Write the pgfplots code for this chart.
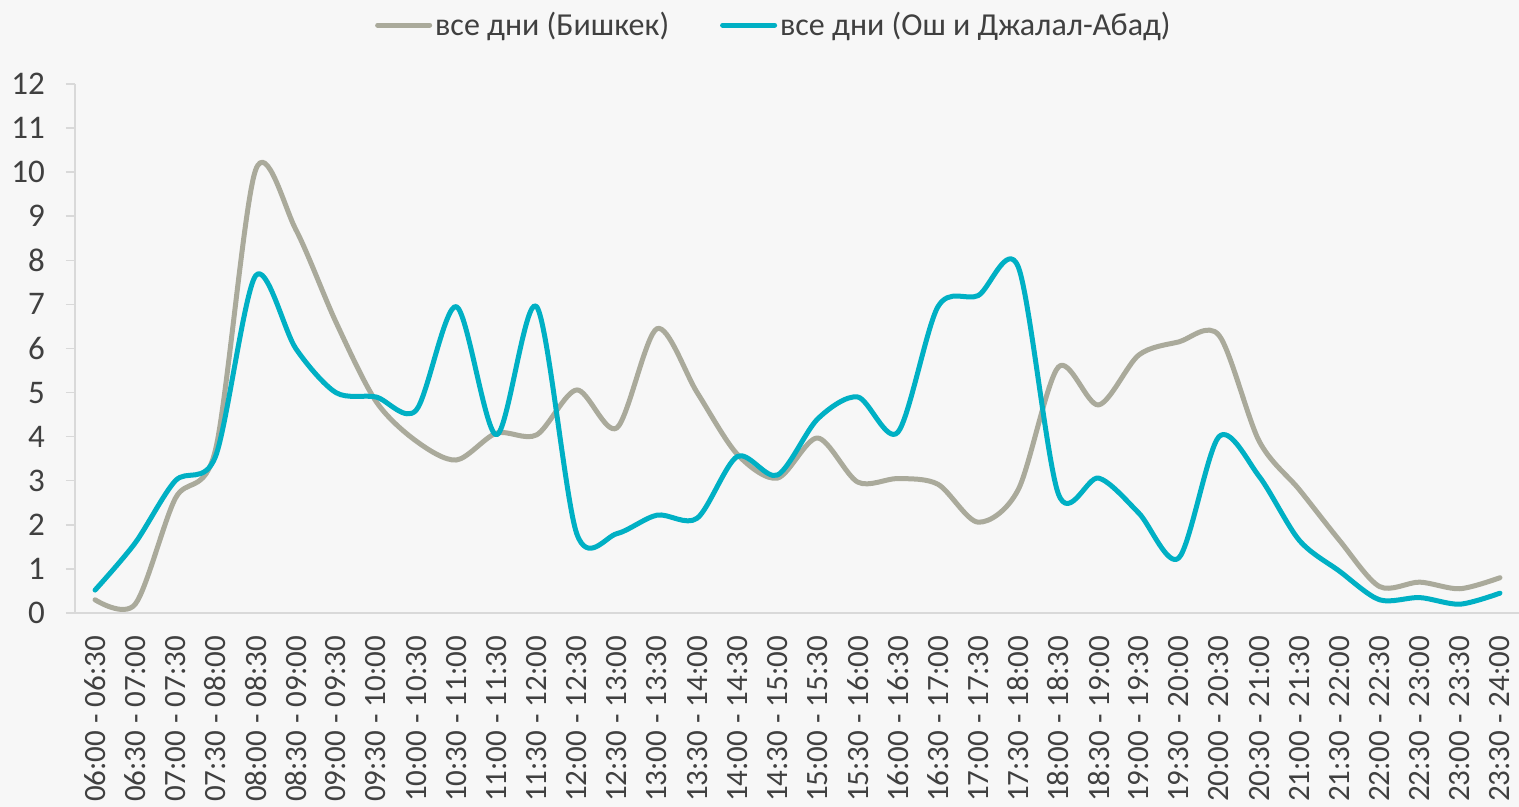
\documentclass[border=0pt]{standalone}
\usepackage{fontspec}
\setmainfont{Carlito}
\usepackage{pgfplots}
\pgfplotsset{compat=1.18}
\definecolor{bg}{RGB}{247,247,247}
\definecolor{bishkek}{RGB}{170,170,155}
\definecolor{osh}{RGB}{0,176,196}
\definecolor{axgray}{RGB}{217,217,217}
\definecolor{txt}{RGB}{64,64,64}
\begin{document}
\begin{tikzpicture}
\fill[bg] (-37.5pt,-97pt) rectangle (722pt,306.5pt);
\begin{axis}[
  scale only axis, width=722.5pt, height=264.5pt,
  xmin=-0.5, xmax=35.5, ymin=0, ymax=12,
  axis x line*=bottom, axis y line*=left,
  axis line style={draw=axgray, line width=0.75pt, -},
  xtick={0,...,35},
  xticklabels={06:00 - 06:30,06:30 - 07:00,07:00 - 07:30,07:30 - 08:00,08:00 - 08:30,08:30 - 09:00,09:00 - 09:30,09:30 - 10:00,10:00 - 10:30,10:30 - 11:00,11:00 - 11:30,11:30 - 12:00,12:00 - 12:30,12:30 - 13:00,13:00 - 13:30,13:30 - 14:00,14:00 - 14:30,14:30 - 15:00,15:00 - 15:30,15:30 - 16:00,16:00 - 16:30,16:30 - 17:00,17:00 - 17:30,17:30 - 18:00,18:00 - 18:30,18:30 - 19:00,19:00 - 19:30,19:30 - 20:00,20:00 - 20:30,20:30 - 21:00,21:00 - 21:30,21:30 - 22:00,22:00 - 22:30,22:30 - 23:00,23:00 - 23:30,23:30 - 24:00},
  x tick label style={rotate=90, anchor=east, font=\fontsize{15.5}{15.5}\selectfont, text=txt},
  xticklabel shift=3.5pt,
  major x tick style={draw=none},
  ytick={0,...,12},
  y tick style={draw=axgray, line width=0.75pt},
  tick align=outside, major tick length=4.5pt,
  yticklabel style={font=\fontsize{16.5}{16.5}\selectfont, text=txt},
  yticklabel shift=7pt,
  /pgf/number format/assume math mode=true,
  legend columns=2,
  legend style={at={(0.484,1.1115)}, anchor=center, draw=none, fill=none,
    font=\fontsize{16}{16}\selectfont, text=txt,
    /tikz/every even column/.append style={column sep=24pt},
    nodes={inner xsep=1.5pt}},
  legend image code/.code={\draw[#1, line width=2.5pt, line cap=round] (0pt,0pt) -- (26pt,0pt);},
  every axis plot/.append style={line width=2.5pt, smooth, tension=0.5, no markers, line cap=round, line join=round},
]
\addplot[bishkek] coordinates {
(0,0.3) (1,0.2) (2,2.6) (3,3.7) (4,10.05) (5,8.7) (6,6.6) (7,4.8) (8,3.9) (9,3.47)
(10,4.08) (11,4.04) (12,5.06) (13,4.2) (14,6.45) (15,5.0) (16,3.6) (17,3.06) (18,3.97) (19,2.97)
(20,3.05) (21,2.92) (22,2.06) (23,2.8) (24,5.58) (25,4.72) (26,5.85) (27,6.15) (28,6.3) (29,3.9)
(30,2.8) (31,1.65) (32,0.6) (33,0.7) (34,0.55) (35,0.8)
};
\addlegendentry{все дни (Бишкек)}
\addplot[osh] coordinates {
(0,0.52) (1,1.59) (2,3.0) (3,3.55) (4,7.65) (5,6.0) (6,5.0) (7,4.9) (8,4.6) (9,6.95)
(10,4.04) (11,6.95) (12,1.8) (13,1.8) (14,2.22) (15,2.15) (16,3.55) (17,3.13) (18,4.4) (19,4.9)
(20,4.1) (21,6.95) (22,7.2) (23,7.85) (24,2.7) (25,3.06) (26,2.27) (27,1.25) (28,4.0) (29,3.1)
(30,1.65) (31,0.95) (32,0.3) (33,0.35) (34,0.2) (35,0.45)
};
\addlegendentry{все дни (Ош и Джалал-Абад)}
\end{axis}
\pgfresetboundingbox
\useasboundingbox (-37.5pt,-97pt) rectangle (722pt,306.5pt);
\end{tikzpicture}
\end{document}
